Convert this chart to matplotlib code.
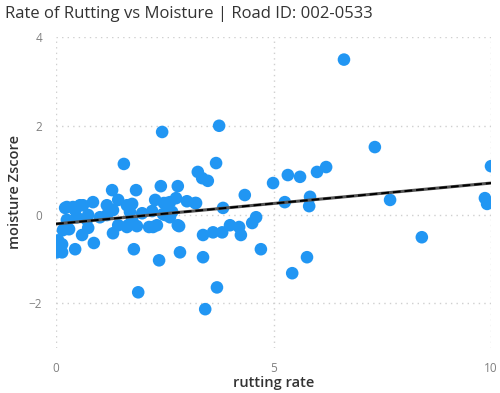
import matplotlib
matplotlib.use("Agg")
import matplotlib.pyplot as plt

rutting_rate = [
    0.00, 0.02, 0.14, 0.14, 0.44, 0.87, 0.16, 0.30, 0.60, 0.74,
    1.31, 1.63, 1.86, 2.14, 2.23, 2.83, 1.79, 2.37, 2.85, 3.38,
    1.89, 3.70, 3.43, 3.38, 3.61, 3.82, 4.00, 4.21, 4.25, 4.51,
    4.60, 4.71, 5.43, 5.77, 8.41, 4.34, 4.99, 5.33, 5.61, 6.00,
    6.21, 5.26, 5.84, 5.82, 7.68, 9.86, 9.91, 10.00, 6.62, 7.33,
    3.75, 2.44, 1.56, 3.26, 3.36, 3.49, 3.68, 3.84, 3.22, 1.84,
    2.41, 2.80, 1.29, 1.75, 2.28, 2.55, 2.62, 2.76, 3.01, 3.20,
    1.98, 2.21, 2.46, 2.67, 1.70, 2.51, 2.80, 2.32, 1.66, 0.25,
    0.39, 0.55, 0.85, 1.17, 1.43, 2.48, 0.25, 0.48, 0.71, 1.01,
    1.17, 1.43, 1.75, 2.62, 0.62, 0.21, 0.44, 1.63, 0.74, 1.31,
    0.05,
]
moisture_zscore = [
    -0.64, -0.85, -0.67, -0.85, -0.78, -0.64, -0.35, -0.33, -0.46, -0.30,
    -0.42, -0.28, -0.26, -0.28, -0.28, -0.26, -0.78, -1.03, -0.85, -0.96,
    -1.75, -1.64, -2.13, -0.46, -0.40, -0.40, -0.24, -0.28, -0.46, -0.19,
    -0.06, -0.78, -1.32, -0.96, -0.51, 0.44, 0.71, 0.89, 0.85, 0.96,
    1.07, 0.28, 0.40, 0.19, 0.33, 0.37, 0.24, 1.09, 3.49, 1.52,
    2.00, 1.86, 1.14, 0.96, 0.82, 0.76, 1.16, 0.15, 0.26, 0.55,
    0.64, 0.64, 0.55, 0.24, 0.33, 0.26, 0.28, 0.37, 0.30, 0.26,
    0.03, 0.08, 0.01, 0.06, 0.06, -0.01, -0.24, -0.24, -0.24, 0.17,
    0.17, 0.21, 0.28, 0.21, 0.33, 0.26, -0.12, -0.06, -0.12, -0.06,
    -0.01, -0.24, -0.12, -0.06, 0.21, 0.15, 0.10, 0.21, -0.01, 0.10,
    -0.58,
]
trend_x = [0, 10]
trend_y = [-0.21, 0.71]

x_ticks = [0, 5, 10]
y_ticks = [-2, 0, 2, 4]

title = "Rate of Rutting vs Moisture | Road ID: 002-0533"
x_label = "rutting rate"
y_label = "moisture Zscore"

plt.rcParams['font.family'] = ['Open Sans', 'DejaVu Sans']

fig = plt.figure(figsize=(5.0, 3.93), dpi=100)
ax = fig.add_axes([0.112, 0.115, 0.870, 0.791])

ax.scatter(rutting_rate, moisture_zscore, s=82, color='#2196F3',
           edgecolors='none', zorder=3, clip_on=True)
ax.plot(trend_x, trend_y, color='#555555', lw=2.2, zorder=4, solid_capstyle='butt')
ax.plot(trend_x, trend_y, color='black', lw=1.4, ls=(0, (4, 2)), zorder=5)

ax.set_xlim(0, 10)
ax.set_ylim(-3, 4)
ax.set_xticks(x_ticks)
ax.set_yticks(y_ticks)
ax.grid(True, color='#cfcfcf', linestyle=(0, (1, 3)), linewidth=1.0, zorder=0)
for s in ax.spines.values():
    s.set_visible(False)
ax.tick_params(length=0, labelsize=8.5, labelcolor='#808080', pad=10)

ax.set_xlabel(x_label, fontsize=10.5, color='#333333', fontweight='semibold', va='center')
ax.set_ylabel(y_label, fontsize=10.5, color='#333333', fontweight='semibold', va='center')
ax.xaxis.set_label_coords(0.50, -0.112)
ax.yaxis.set_label_coords(-0.094, 0.50)

fig.text(0.01, 0.965, title, fontsize=12, color='#333333', ha='left', va='center')

fig.savefig('out.png', dpi=100)
